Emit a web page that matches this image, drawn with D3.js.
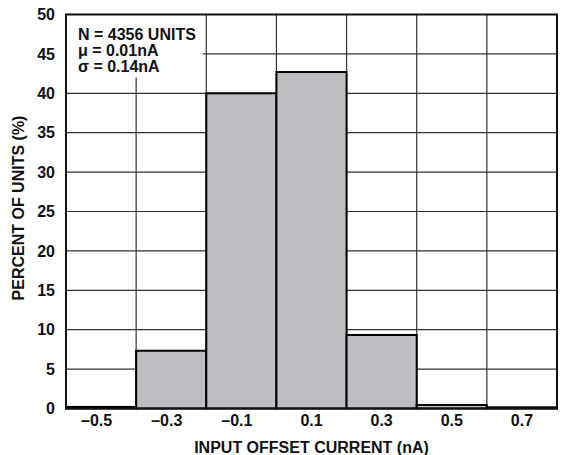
<!DOCTYPE html>
<html><head><meta charset="utf-8">
<script src="https://cdn.jsdelivr.net/npm/d3@7"></script>
<style>body{margin:0;background:#fff}svg text{font-family:"Liberation Sans",Arial,sans-serif;font-weight:bold;fill:#111}</style>
</head><body><svg id="c" width="577" height="455"></svg>
<script>
const categories = ["\u20130.5","\u20130.3","\u20130.1","0.1","0.3","0.5","0.7"];
const percents = [0.2, 7.33, 40.0, 42.7, 9.33, 0.45, 0.15];
const yTicks = [0,5,10,15,20,25,30,35,40,45,50];
const noteLines = ["N = 4356 UNITS","\u03bc = 0.01nA","\u03c3 = 0.14nA"];

const svg = d3.select("#c");
const L=66,R=557,T=14.5,B=408.5;
const x = d3.scaleBand().domain(categories).range([L,R]).padding(0);
const y = d3.scaleLinear().domain([0,50]).range([B,T]);

// grid
const g = svg.append("g");
g.selectAll("line.h").data(yTicks.slice(1,-1)).join("line")
 .attr("x1",L).attr("x2",R).attr("y1",d=>y(d)).attr("y2",d=>y(d))
 .attr("stroke","#333").attr("stroke-width",1.2);
g.selectAll("line.v").data(categories.slice(1)).join("line")
 .attr("x1",d=>x(d)).attr("x2",d=>x(d)).attr("y1",T).attr("y2",B)
 .attr("stroke","#333").attr("stroke-width",1.2);

// note box
svg.append("rect").attr("x",L).attr("y",T).attr("width",x.bandwidth()*1.95).attr("height",y(42)-T).attr("fill","#fff");
svg.append("g").selectAll("text").data(noteLines).join("text")
 .attr("x",L+12).attr("y",(d,i)=>T+25+i*16).attr("font-size",16).text(d=>d);

// bars
svg.append("g").selectAll("rect").data(percents).join("rect")
 .attr("x",(d,i)=>x(categories[i])).attr("width",x.bandwidth())
 .attr("y",d=>y(d)).attr("height",d=>B-y(d))
 .attr("fill","#bdbec2").attr("stroke","#000").attr("stroke-width",2);

// frame
svg.append("rect").attr("x",L).attr("y",T).attr("width",R-L).attr("height",B-T)
 .attr("fill","none").attr("stroke","#111").attr("stroke-width",2);

// axes
const ya = d3.axisLeft(y).tickValues(yTicks).tickSize(0).tickPadding(11);
svg.append("g").attr("transform",`translate(${L},0)`).call(ya)
 .call(s=>s.select(".domain").remove())
 .selectAll("text").attr("font-size",16).attr("fill","#111");
const xa = d3.axisBottom(x).tickSize(0).tickPadding(6);
svg.append("g").attr("transform",`translate(0,${B})`).call(xa)
 .call(s=>s.select(".domain").remove())
 .selectAll("text").attr("font-size",16).attr("fill","#111")
 .attr("dx",d=>d.startsWith("\u2013")?"-0.28em":null);

svg.append("text").attr("x",(L+R)/2).attr("y",453).attr("text-anchor","middle").attr("font-size",16).text("INPUT OFFSET CURRENT (nA)");
svg.append("text").attr("transform",`translate(24,208) rotate(-90)`).attr("text-anchor","middle").attr("font-size",16).text("PERCENT OF UNITS (%)");
</script></body></html>
